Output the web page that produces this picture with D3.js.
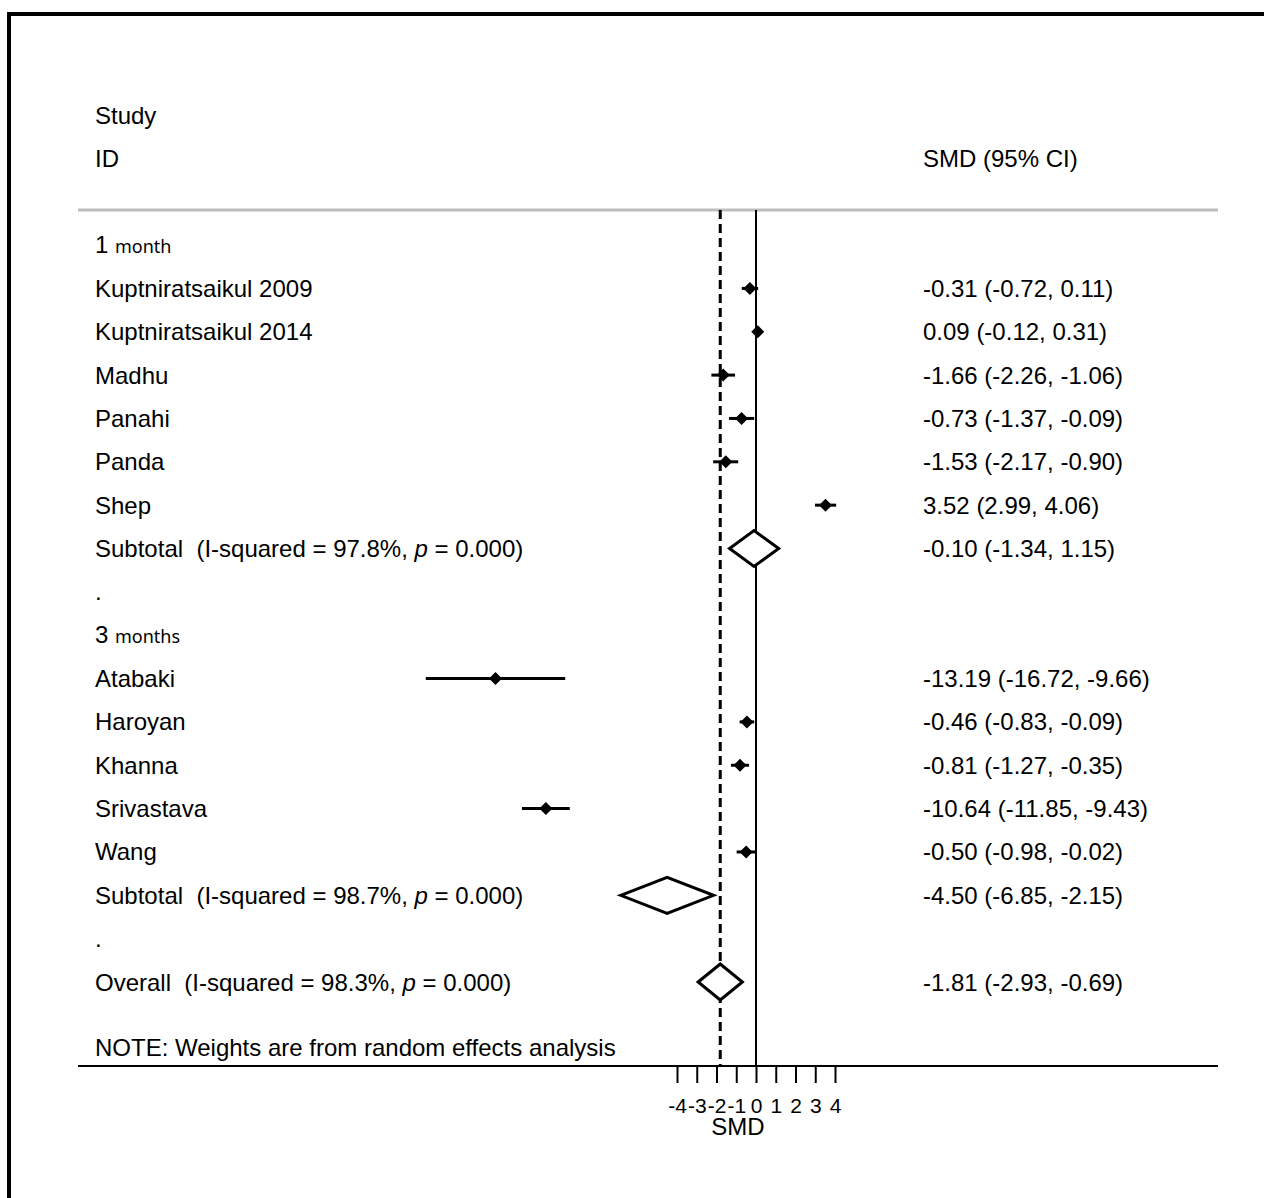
<!DOCTYPE html>
<html>
<head>
<meta charset="utf-8">
<script src="https://cdn.jsdelivr.net/npm/d3@7"></script>
<style>
  body { margin: 0; background: #fff; }
  text { font-family: "Liberation Sans", Arial, sans-serif; font-size: 24px; fill: #000; white-space: pre; }
</style>
</head>
<body>
<div id="chart"></div>
<script>
// studies: label, SMD, lower, upper
const studies = ['Kuptniratsaikul 2009', 'Kuptniratsaikul 2014', 'Madhu', 'Panahi', 'Panda', 'Shep',
  'Atabaki', 'Haroyan', 'Khanna', 'Srivastava', 'Wang']
const smd   = [-0.31, 0.09, -1.66, -0.73, -1.53, 3.52, -13.19, -0.46, -0.81, -10.64, -0.50]
const lower = [-0.72, -0.12, -2.26, -1.37, -2.17, 2.99, -16.72, -0.83, -1.27, -11.85, -0.98]
const upper = [0.11, 0.31, -1.06, -0.09, -0.90, 4.06, -9.66, -0.09, -0.35, -9.43, -0.02]
const rowOf = [4, 5, 6, 7, 8, 9, 13, 14, 15, 16, 17]

// pooled estimates
const pooledNames = ['Subtotal', 'Subtotal', 'Overall']
const pooledI2 = ['97.8%', '98.7%', '98.3%']
const pooledSmd = [-0.10, -4.50, -1.81]
const pooledLo = [-1.34, -6.85, -2.93]
const pooledHi = [1.15, -2.15, -0.69]
const pooledRow = [10, 18, 20]

const groups = [['1', 'month', 3], ['3', 'months', 12]]
const dots = [11, 19]
const ticks = [-4, -3, -2, -1, 0, 1, 2, 3, 4]

const width = 1264, height = 1198
const svg = d3.select('#chart').append('svg')
  .attr('width', width).attr('height', height)

// frame (right and bottom edges fall outside the picture)
svg.append('rect')
  .attr('x', 9).attr('y', 14).attr('width', 1400).attr('height', 1400)
  .attr('fill', 'none').attr('stroke', '#000').attr('stroke-width', 4)

const x = d3.scaleLinear().domain([-4, 4]).range([677, 835])
const y = d3.scaleLinear().domain([0, 1]).range([115, 158.35])

// hyphen minus like the original, not the unicode minus d3.format gives
const fmt = v => v.toFixed(2)
const ciText = (e, l, h) => fmt(e) + ' (' + fmt(l) + ', ' + fmt(h) + ')'

const plotTop = 210, plotBottom = 1066, plotLeft = 78, plotRight = 1218
const labelX = 95, ciX = 923

// header
svg.append('text').attr('x', labelX).attr('y', y(0) + 8.5).text('Study')
svg.append('text').attr('x', labelX).attr('y', y(1) + 8.5).text('ID')
svg.append('text').attr('x', ciX).attr('y', y(1) + 8.5).text('SMD (95% CI)')

svg.append('line')
  .attr('x1', plotLeft).attr('x2', plotRight).attr('y1', plotTop).attr('y2', plotTop)
  .attr('stroke', '#bdbdbd').attr('stroke-width', 3)

// reference lines
svg.append('line')
  .attr('x1', x(0)).attr('x2', x(0)).attr('y1', plotTop).attr('y2', plotBottom)
  .attr('stroke', '#000').attr('stroke-width', 2)
svg.append('line')
  .attr('x1', x(pooledSmd[2])).attr('x2', x(pooledSmd[2])).attr('y1', plotTop).attr('y2', plotBottom)
  .attr('stroke', '#000').attr('stroke-width', 3).attr('stroke-dasharray', '9,5')

// group headers
groups.forEach(g => {
  const t = svg.append('text').attr('x', labelX).attr('y', y(g[2]) + 7.5)
  t.append('tspan').text(g[0] + ' ')
  t.append('tspan').style('font-family', '"Noto Sans", sans-serif')
    .style('font-size', '18px').text(g[1])
})
dots.forEach(r => {
  svg.append('text').attr('x', labelX).attr('y', y(r) + 8.5).text('.')
})

// studies
studies.forEach((s, i) => {
  const cy = y(rowOf[i])
  svg.append('text').attr('x', labelX).attr('y', cy + 8.5).text(s)
  svg.append('text').attr('x', ciX).attr('y', cy + 8.5).text(ciText(smd[i], lower[i], upper[i]))
  svg.append('line')
    .attr('x1', x(lower[i])).attr('x2', x(upper[i])).attr('y1', cy).attr('y2', cy)
    .attr('stroke', '#000').attr('stroke-width', 3)
  const cx = x(smd[i]), r = 6.5
  svg.append('path')
    .attr('d', `M${cx},${cy - r}L${cx + r},${cy}L${cx},${cy + r}L${cx - r},${cy}Z`)
    .attr('fill', '#000')
})

// pooled rows
pooledNames.forEach((n, i) => {
  const cy = y(pooledRow[i])
  const t = svg.append('text').attr('x', labelX).attr('y', cy + 8.5)
  t.append('tspan').text(n + '  (I-squared = ' + pooledI2[i] + ', ')
  t.append('tspan').style('font-style', 'italic').text('p')
  t.append('tspan').text(' = 0.000)')
  svg.append('text').attr('x', ciX).attr('y', cy + 8.5)
    .text(ciText(pooledSmd[i], pooledLo[i], pooledHi[i]))
  const h = 18
  svg.append('path')
    .attr('d', `M${x(pooledLo[i])},${cy}L${x(pooledSmd[i])},${cy - h}L${x(pooledHi[i])},${cy}L${x(pooledSmd[i])},${cy + h}Z`)
    .attr('fill', '#fff').attr('stroke', '#000').attr('stroke-width', 3)
})

svg.append('text').attr('x', labelX).attr('y', y(21.5) + 8.5)
  .text('NOTE: Weights are from random effects analysis')

// x axis
svg.append('line')
  .attr('x1', plotLeft).attr('x2', plotRight).attr('y1', plotBottom).attr('y2', plotBottom)
  .attr('stroke', '#000').attr('stroke-width', 2)

const axis = svg.append('g').attr('transform', 'translate(0,' + plotBottom + ')')
  .call(d3.axisBottom(x).tickValues(ticks).tickSize(17).tickPadding(15).tickFormat(d => String(d)))
axis.select('.domain').remove()
axis.selectAll('.tick line').attr('stroke-width', 2)
axis.selectAll('.tick text')
  .style('font-family', '"Liberation Sans", Arial, sans-serif').style('font-size', '21px')

svg.append('text').attr('x', x(-0.92)).attr('y', 1135).attr('text-anchor', 'middle').text('SMD')
</script>
</body>
</html>
